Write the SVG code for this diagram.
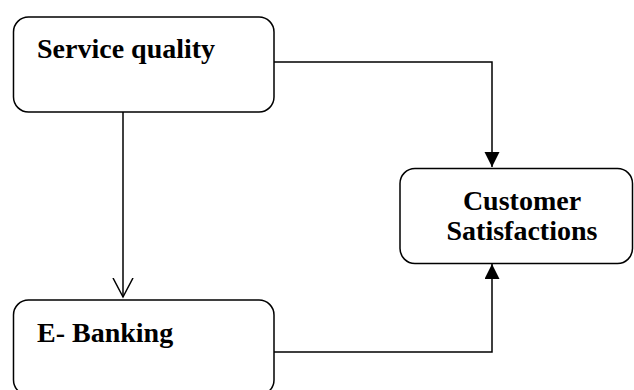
<svg xmlns="http://www.w3.org/2000/svg" width="634" height="390" viewBox="0 0 634 390">
<style>
.box{fill:#fff;stroke:#000;stroke-width:1.5}
.lbl{font-family:"Liberation Serif","Times New Roman",serif;font-weight:bold;font-size:28px;fill:#000}
.ln{fill:none;stroke:#000;stroke-width:1.5}
</style>
<defs>
<marker id="fill" markerUnits="userSpaceOnUse" markerWidth="16" markerHeight="16" refX="15" refY="7.5" orient="auto">
<path d="M0,0 L15,7.5 L0,15 Z" fill="#000"/>
</marker>
<marker id="open" markerUnits="userSpaceOnUse" markerWidth="22" markerHeight="24" refX="19" refY="11" orient="auto">
<path d="M0,1 L19,11 L0,21" fill="none" stroke="#000" stroke-width="1.5"/>
</marker>
</defs>
<g id="connectors">
<path class="ln" d="M274,62 H492 V167" marker-end="url(#fill)"/>
<path class="ln" d="M123,112 V297" marker-end="url(#open)"/>
<path class="ln" d="M274,352 H492 V264" marker-end="url(#fill)"/>
</g>
<g id="service">
<rect class="box" x="13.5" y="17" width="260.5" height="95" rx="15"/>
<text class="lbl" x="37" y="58">Service quality</text>
</g>
<g id="ebanking">
<rect class="box" x="13.5" y="300" width="260.5" height="95" rx="15"/>
<text class="lbl" x="37" y="342">E- Banking</text>
</g>
<g id="customer">
<rect class="box" x="400" y="168.5" width="232.5" height="95" rx="15"/>
<text class="lbl" x="522" y="210" text-anchor="middle">Customer</text>
<text class="lbl" x="522" y="240" text-anchor="middle">Satisfactions</text>
</g>
</svg>
